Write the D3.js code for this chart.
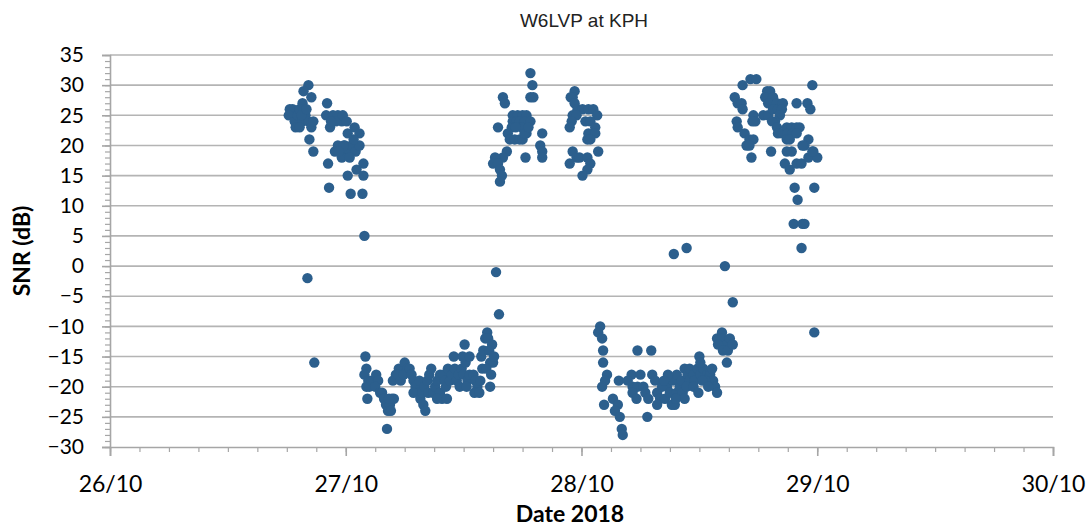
<!DOCTYPE html>
<html>
<head>
<meta charset="utf-8">
<script src="https://cdn.jsdelivr.net/npm/d3@7/dist/d3.min.js"></script>
<style>
  html, body { margin: 0; padding: 0; background: #fff; }
  svg { display: block; }
</style>
</head>
<body>
<svg id="chart" width="1090" height="527"></svg>
<script>
// Chart text
const chartTitle = "W6LVP at KPH";
const yTitle = "SNR (dB)";
const xTitle = "Date 2018";

// Axis extents and ticks
const startDate = new Date(2018, 9, 26);
const endDate = new Date(2018, 9, 30);
const yMin = -30, yMax = 35;
const yTickValues = d3.range(-30, 36, 5);

// Spots: [hours after 26/10 00:00, SNR dB], grouped by reception pass
const pass1 = [
  [20.2,30],[19.7,29],[20.5,28],[19.6,27],[18.6,26],[18.3,26],[18.2,25],[22.1,27],[22.0,25],
  [18.8,24],[19.1,25],[19.3,26],[19.6,24],[19.9,25],[20.2,24],[20.5,23],[18.9,23],[19.3,23],
  [19.5,25],[20.0,26],[20.7,24],[20.3,21],[20.7,19],[22.4,23],[22.7,25],[23.2,25],[23.6,24],
  [23.0,24],[23.7,25],[24.1,24],[22.5,24],[24.2,22],[24.9,23],[25.4,22],[22.9,19],[23.2,20],
  [23.5,19],[23.9,20],[24.2,19],[24.6,20],[25.0,19],[25.4,20],[23.6,18],[24.4,18],[23.8,20],
  [24.8,21],[23.3,19],[22.2,17],[25.1,16],[25.8,17],[24.2,15],[25.8,15],[22.3,13],[24.5,12],
  [25.7,12],[25.9,5],[20.1,-2],[20.8,-16]
];
const pass2 = [
  [26.0,-15],[26.1,-17],[25.9,-18],[26.3,-19],[26.1,-20],[26.4,-20],[26.2,-22],[26.6,-19],
  [27.1,-18],[27.3,-19],[27.0,-20],[27.5,-21],[27.7,-21],[27.9,-22],[28.1,-23],[28.3,-24],
  [28.5,-23],[28.7,-22],[28.9,-22],[28.4,-22],[28.6,-24],[28.2,-27],[28.8,-19],[29.1,-18],
  [29.4,-17],[29.7,-17],[30.0,-16],[30.3,-17],[29.3,-18],[29.6,-19],[29.9,-18],[30.5,-17],
  [30.7,-18],[30.9,-19],[31.1,-20],[31.4,-21],[30.9,-21],[31.6,-22],[31.9,-23],[32.1,-24],
  [31.8,-21],[31.5,-19],[32.0,-20],[32.3,-19],[32.5,-18],[32.7,-17],[32.4,-21],[32.9,-21],
  [33.1,-20],[33.3,-19],[33.6,-18],[33.9,-18],[34.1,-19],[33.6,-21],[33.8,-22],[33.3,-22],
  [34.2,-20],[34.4,-17],[34.6,-19],[34.3,-22],[34.8,-18],[35.1,-17],[35.0,-15],[35.3,-19],
  [35.5,-18],[35.6,-20],[35.8,-17],[36.0,-18],[36.2,-16],[35.9,-15],[36.4,-19],[36.6,-18],
  [36.1,-13],[36.6,-15],[36.3,-20],[37.0,-18],[37.2,-19],[37.4,-20],[37.1,-21],[37.6,-21],
  [37.7,-19],[37.9,-17],[37.8,-15],[38.0,-14],[38.4,-11],[38.2,-12],[38.5,-12],[38.9,-13],
  [38.7,-16],[39.0,-16],[38.7,-20],[38.6,-14],[38.3,-17],[38.8,-18],[39.1,-15],[39.6,-8],
  [39.3,-1]
];
const pass3 = [
  [42.8,32],[43.0,30],[42.8,28],[43.1,28],[40.0,28],[40.2,27],[39.5,23],[41.0,25],[41.5,25],
  [42.0,25],[42.4,25],[41.0,24],[41.4,24],[41.7,24],[42.2,24],[42.8,24],[41.9,23],[42.4,22],
  [40.9,23],[40.5,22],[40.7,21],[41.2,21],[41.7,21],[42.0,21],[42.2,22],[44.0,22],[43.8,20],
  [44.0,19],[44.0,18],[42.3,18],[40.4,19],[40.0,18],[39.2,18],[39.0,17],[39.5,17],[39.7,16],
  [39.9,15],[39.7,14],[41.3,23],[42.6,23]
];
const pass4 = [
  [47.3,29],[47.1,28],[46.9,28],[47.3,27],[47.6,26],[48.1,26],[48.7,26],[49.2,26],[49.6,25],
  [47.1,25],[47.5,25],[47.0,24],[46.8,23],[48.4,24],[48.9,24],[49.4,23],[48.7,22],[49.4,22],
  [48.6,21],[48.9,21],[49.7,19],[47.1,19],[47.5,18],[47.8,18],[48.6,18],[48.9,17],[48.6,16],
  [46.8,17],[48.1,15]
];
const pass5 = [
  [57.4,2],[58.7,3],[62.6,0],[63.4,-6],[49.9,-10],[49.7,-11],[50.1,-12],[50.2,-14],[50.2,-16],
  [50.6,-18],[50.4,-19],[50.1,-20],[50.3,-23],[51.8,-19],[51.2,-22],[51.7,-23],[51.4,-24],
  [51.9,-25],[52.1,-27],[52.2,-28],[53.7,-14],[55.1,-14],[53.1,-18],[54.0,-18],[53.2,-20],
  [53.7,-20],[54.3,-20],[53.2,-21],[53.6,-22],[54.5,-21],[54.8,-22],[55.2,-18],[55.5,-19],
  [54.7,-25],[55.7,-21],[56.0,-22],[55.7,-23],[56.5,-22],[56.7,-20],[57.0,-21],[57.3,-19],
  [57.7,-18],[57.5,-23],[57.2,-23],[57.7,-21],[58.0,-20],[58.3,-21],[58.2,-19],[58.5,-17],
  [58.8,-18],[59.0,-19],[59.0,-17],[59.4,-18],[59.5,-19],[59.8,-17],[60.1,-18],[60.4,-17],
  [60.8,-18],[61.1,-18],[61.3,-17],[61.4,-19],[61.6,-20],[61.8,-21],[60.0,-15],[58.7,-20],
  [59.4,-20],[60.6,-19],[61.8,-12],[62.3,-11],[62.4,-12],[62.8,-13],[63.1,-12],[61.9,-13],
  [62.4,-14],[62.9,-14],[63.4,-13],[62.8,-16],[52.7,-19],[56.2,-20],[56.8,-18],[58.5,-22],
  [59.9,-21],[60.3,-19],[60.9,-20],[60.1,-16],[57.6,-22],[56.4,-19]
];
const pass6 = [
  [65.2,31],[65.8,31],[64.4,30],[71.5,30],[63.6,28],[63.9,27],[64.3,27],[64.4,26],[66.9,29],
  [67.2,29],[66.7,28],[67.5,28],[67.0,27],[67.9,27],[66.5,25],[67.0,25],[67.5,26],[68.0,26],
  [68.5,27],[68.4,26],[68.2,25],[67.7,24],[67.4,24],[67.9,23],[68.0,22],[68.4,22],[65.5,25],
  [65.7,24],[65.4,24],[63.8,24],[63.9,23],[64.6,22],[65.1,21],[65.5,21],[64.8,20],[65.1,20],
  [65.3,18],[67.3,19],[69.9,27],[71.0,27],[71.3,26],[68.9,23],[69.4,23],[69.9,23],[70.2,23],
  [69.0,22],[69.5,22],[68.9,21],[69.2,21],[69.9,22],[71.1,21],[70.7,20],[70.5,20],[68.9,19],
  [69.4,19],[68.7,17],[69.2,16],[69.9,17],[70.4,17],[71.1,18],[71.6,19],[72.0,18],[71.5,19],
  [69.7,13],[71.7,13],[70.0,11],[69.6,7],[70.5,7],[70.7,7],[70.4,3],[71.7,-11]
];

const spots = [].concat(pass1, pass2, pass3, pass4, pass5, pass6)
  .map(([h, snr]) => ({ time: startDate.getTime() + h * 3600e3, snr }));

const margin = { left: 110, right: 37, top: 55, bottom: 80 };
const width = 1090, height = 527;
const svg = d3.select("#chart");

const x = d3.scaleTime()
  .domain([startDate, endDate])
  .range([margin.left, width - margin.right]);
const y = d3.scaleLinear()
  .domain([yMin, yMax])
  .range([height - margin.bottom, margin.top]);

const gridColor = "#b4b4b4";
const axisColor = "#a6a6a6";
const tickFont = "Lato, 'Open Sans', sans-serif";

// Horizontal gridlines at each labelled SNR value
svg.append("g")
  .selectAll("line")
  .data(yTickValues.filter(v => v > yMin))
  .join("line")
  .attr("x1", x.range()[0]).attr("x2", x.range()[1])
  .attr("y1", d => y(d)).attr("y2", d => y(d))
  .attr("stroke", gridColor).attr("stroke-width", 1.6);

// Y axis: minor ticks every dB, major ticks every 5 dB
const yMinor = svg.append("g")
  .attr("transform", `translate(${margin.left},0)`)
  .call(d3.axisLeft(y).tickValues(d3.range(yMin, yMax + 1, 1)).tickSize(5).tickFormat(""));
yMinor.select(".domain").remove();
yMinor.selectAll("line").attr("stroke", axisColor).attr("stroke-width", 1.2);

const yAxis = svg.append("g")
  .attr("transform", `translate(${margin.left},0)`)
  .call(d3.axisLeft(y).tickValues(yTickValues).tickSize(8).tickPadding(18).tickFormat(d3.format("d")));
yAxis.select(".domain").attr("stroke", axisColor).attr("stroke-width", 1.6);
yAxis.selectAll("line").attr("stroke", axisColor).attr("stroke-width", 1.6);
yAxis.selectAll("text")
  .attr("font-family", tickFont).attr("font-size", 21).attr("fill", "#000");

// X axis: minor ticks every 3 hours, major ticks at midnight
const xMinor = svg.append("g")
  .attr("transform", `translate(0,${y(yMin)})`)
  .call(d3.axisBottom(x).ticks(d3.timeHour.every(3)).tickSize(5).tickFormat(""));
xMinor.select(".domain").remove();
xMinor.selectAll("line").attr("stroke", axisColor).attr("stroke-width", 1.2);

const xAxis = svg.append("g")
  .attr("transform", `translate(0,${y(yMin)})`)
  .call(d3.axisBottom(x).ticks(d3.timeDay.every(1)).tickSize(9).tickPadding(20)
    .tickFormat(d3.timeFormat("%d/%m")));
xAxis.select(".domain").attr("stroke", axisColor).attr("stroke-width", 1.6);
xAxis.selectAll("line").attr("stroke", axisColor).attr("stroke-width", 1.6);
xAxis.selectAll("text")
  .attr("font-family", tickFont).attr("font-size", 23).attr("fill", "#000");

// Spots
svg.append("g")
  .selectAll("circle")
  .data(spots)
  .join("circle")
  .attr("cx", d => x(d.time))
  .attr("cy", d => y(d.snr))
  .attr("r", 5.2)
  .attr("fill", "#2c5f8d");

// Titles
svg.append("text")
  .attr("x", 584).attr("y", 27)
  .attr("text-anchor", "middle")
  .attr("font-family", "'Liberation Sans', Arial, sans-serif")
  .attr("font-size", 19).attr("fill", "#222")
  .text(chartTitle);

svg.append("text")
  .attr("transform", `translate(30,${(y(yMin) + y(yMax)) / 2}) rotate(-90)`)
  .attr("text-anchor", "middle")
  .attr("font-family", tickFont).attr("font-weight", "bold")
  .attr("font-size", 23).attr("fill", "#000")
  .text(yTitle);

svg.append("text")
  .attr("x", 570).attr("y", 522)
  .attr("text-anchor", "middle")
  .attr("font-family", tickFont).attr("font-weight", "bold")
  .attr("font-size", 23).attr("fill", "#000")
  .text(xTitle);
</script>
</body>
</html>
